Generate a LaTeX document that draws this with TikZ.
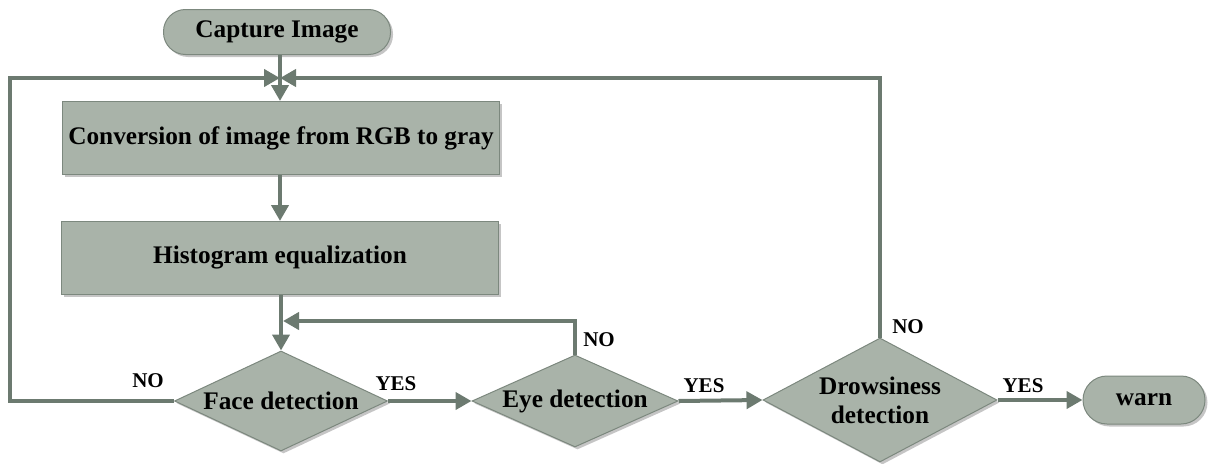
\documentclass[tikz,border=0pt]{standalone}
\usepackage{fontspec}
\setmainfont{Liberation Serif}
\usetikzlibrary{shapes.geometric,arrows.meta,shadows}

\definecolor{boxfill}{HTML}{A9B3A9}
\definecolor{boxline}{HTML}{7C887E}
\definecolor{flowline}{HTML}{6C7A70}

\tikzset{
  boxshadow/.style={drop shadow={shadow xshift=2.5pt,shadow yshift=-2.5pt,fill=black!45,opacity=.5}},
  terminal/.style={draw=boxline,line width=1pt,fill=boxfill,rounded corners=22pt,boxshadow,
    font=\fontsize{25.3}{28}\selectfont\bfseries},
  process/.style={draw=boxline,line width=1pt,fill=boxfill,boxshadow,minimum width=437pt,minimum height=73pt,
    font=\fontsize{25.3}{28}\selectfont\bfseries},
  decision/.style={diamond,draw=boxline,line width=1pt,fill=boxfill,boxshadow,inner sep=0pt,align=center,
    font=\fontsize{25.3}{29}\selectfont\bfseries},
  flow/.style={draw=flowline,line width=4pt,-{Triangle[length=16pt,width=17pt]}},
  lbl/.style={font=\fontsize{21}{24}\selectfont\bfseries}
}

\begin{document}
\begin{tikzpicture}[x=1pt,y=-1pt]
    \useasboundingbox (0,0) rectangle (1215,463);

    % boxes
    \node[terminal,minimum width=227pt,minimum height=45pt] (capture) at (277,32) {Capture Image};
    \node[process] (rgb2gray) at (281,138) {Conversion of image from RGB to gray};
    \node[process] (histeq) at (280,258) {Histogram equalization};

    % decisions
    \node[decision,aspect=2.1,minimum width=213pt,minimum height=100pt] (face) at (281,401) {Face detection};
    \node[decision,aspect=2.2,minimum width=206pt,minimum height=92pt] (eye) at (575,401) {Eye detection};
    \node[decision,aspect=1.85,minimum width=234pt,minimum height=124pt] (drowsy) at (880,400) {Drowsiness\\detection};
    \node[terminal,rounded corners=24pt,minimum width=122pt,minimum height=48pt] (warn) at (1144,400) {warn};

    \coordinate (join) at (280,78);
    \coordinate (cornerL) at (10,78);
    \coordinate (merge) at (281,321);

    % main flow
    \draw[flow] (capture.south -| join) -- (rgb2gray.north -| join);
    \draw[flow] (rgb2gray.south -| join) -- (histeq.north -| join);
    \draw[flow] (histeq.south -| face.north) -- (face.north);
    \draw[flow] (face.east) -- (eye.west);
    \draw[flow] (eye.east) -- (drowsy.west);
    \draw[flow] (drowsy.east) -- (warn.west);

    % loops back
    \draw[flow] (face.west) -| (cornerL) -- (join);
    \draw[flow] (drowsy.north) |- (join);
    \draw[flow,shorten >=2pt] (eye.north) |- (merge);

    % labels
    \node[lbl] (noFace) at (148,381) {NO};
    \node[lbl] (yesFace) at (396,384) {YES};
    \node[lbl] (noEye) at (599,340) {NO};
    \node[lbl] (yesEye) at (704,386) {YES};
    \node[lbl] (noDrowsy) at (908,327) {NO};
    \node[lbl] (yesDrowsy) at (1023,386) {YES};

\end{tikzpicture}
\end{document}
